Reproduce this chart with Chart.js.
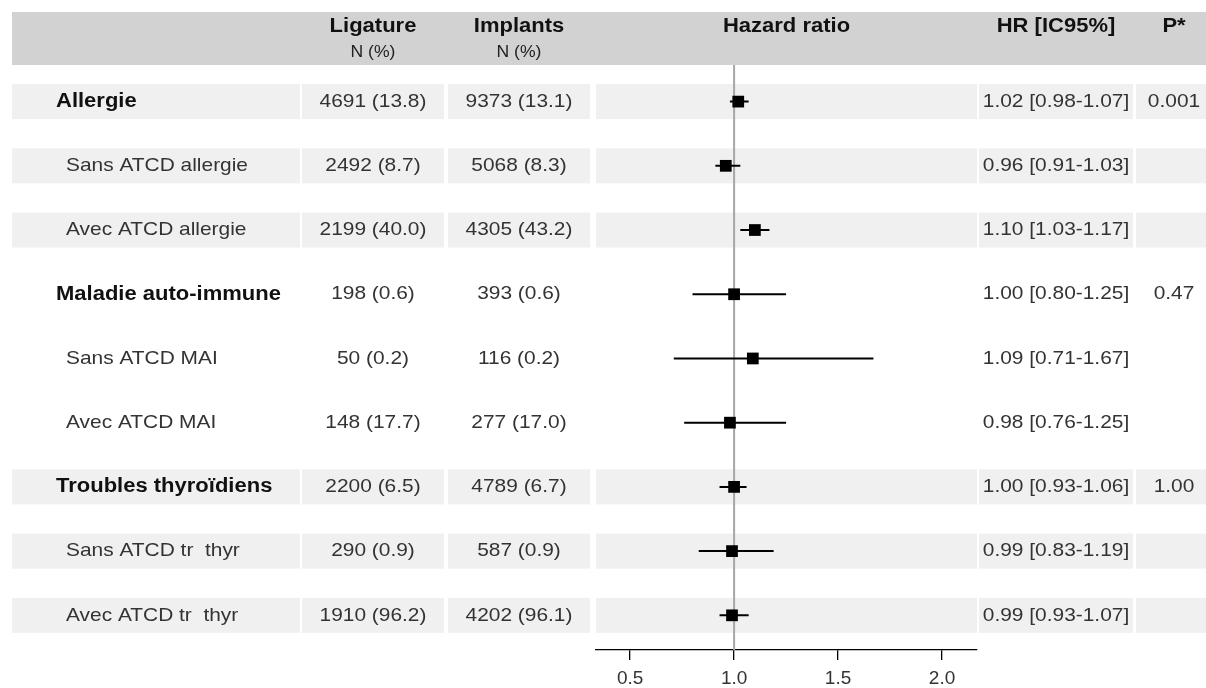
<!DOCTYPE html>
<html>
<head>
<meta charset="utf-8">
<script src="https://cdn.jsdelivr.net/npm/chart.js@4"></script>
<style>
  html, body { margin: 0; padding: 0; background: #fff; }
  canvas { display: block; }
</style>
</head>
<body>
<canvas id="forest" width="1206" height="688"></canvas>
<script>
// données
const rowLabels = ["Allergie", "Sans ATCD allergie", "Avec ATCD allergie",
  "Maladie auto-immune", "Sans ATCD MAI", "Avec ATCD MAI",
  "Troubles thyroïdiens", "Sans ATCD tr  thyr", "Avec ATCD tr  thyr"];
const rowGroup = [1, 1, 1, 2, 2, 2, 3, 3, 3];
const rowIsHeader = [true, false, false, true, false, false, true, false, false];
const ligature = ["4691 (13.8)", "2492 (8.7)", "2199 (40.0)", "198 (0.6)", "50 (0.2)",
  "148 (17.7)", "2200 (6.5)", "290 (0.9)", "1910 (96.2)"];
const implants = ["9373 (13.1)", "5068 (8.3)", "4305 (43.2)", "393 (0.6)", "116 (0.2)",
  "277 (17.0)", "4789 (6.7)", "587 (0.9)", "4202 (96.1)"];
const hr = [1.02, 0.96, 1.10, 1.00, 1.09, 0.98, 1.00, 0.99, 0.99];
const hrLow = [0.98, 0.91, 1.03, 0.80, 0.71, 0.76, 0.93, 0.83, 0.93];
const hrHigh = [1.07, 1.03, 1.17, 1.25, 1.67, 1.25, 1.06, 1.19, 1.07];
const pValues = ["0.001", "", "", "0.47", "", "", "1.00", "", ""];
const xTicks = [0.5, 1.0, 1.5, 2.0];
const headers = { lig: "Ligature", imp: "Implants", sub: "N (%)",
  plot: "Hazard ratio", hr: "HR [IC95%]", p: "P*" };

const rowIdx = rowLabels.map((_, i) => i + 1);

// colonnes du tableau (pixels)
const cols = {
  label: [12, 300], lig: [302, 444], imp: [448, 590],
  plot: [596, 977], hr: [979, 1133], p: [1136, 1212]
};
const FONT = '"Liberation Sans", Arial, sans-serif';
const SX = 1.1;

function txt(ctx, s, x, y, size, bold, align, color) {
  ctx.save();
  ctx.font = (bold ? "bold " : "") + size + "px " + FONT;
  ctx.fillStyle = color;
  ctx.textBaseline = "middle";
  ctx.textAlign = align;
  ctx.translate(x, y);
  ctx.scale(SX, 1);
  ctx.fillText(s, 0, 0);
  ctx.restore();
}
const mid = (c) => (c[0] + c[1]) / 2;

const tablePlugin = {
  id: "table",
  beforeDraw(chart) {
    const ctx = chart.ctx;
    const y = chart.scales.y;
    // en-tête
    ctx.fillStyle = "#d2d2d2";
    ctx.fillRect(12, 12, 1206 - 12, 53);
    // bandes des lignes
    rowIdx.forEach((r, i) => {
      if (rowGroup[i] % 2 === 0) return;
      const yc = y.getPixelForValue(r);
      ctx.fillStyle = "#f0f0f0";
      Object.values(cols).forEach(c => ctx.fillRect(c[0], yc - 17.5, c[1] - c[0], 35));
    });
  },
  beforeDatasetsDraw(chart) {
    const ctx = chart.ctx;
    const x = chart.scales.x;
    const a = chart.chartArea;
    const px = x.getPixelForValue(1);
    ctx.save();
    ctx.strokeStyle = "#a6a6a6";
    ctx.lineWidth = 2;
    ctx.beginPath();
    ctx.moveTo(px, a.top);
    ctx.lineTo(px, a.bottom);
    ctx.stroke();
    ctx.restore();
  },
  afterDraw(chart) {
    const ctx = chart.ctx;
    const y = chart.scales.y;
    txt(ctx, headers.lig, mid(cols.lig), 26, 20, true, "center", "#111");
    txt(ctx, headers.imp, mid(cols.imp), 26, 20, true, "center", "#111");
    txt(ctx, headers.sub, mid(cols.lig), 53, 16, false, "center", "#222");
    txt(ctx, headers.sub, mid(cols.imp), 53, 16, false, "center", "#222");
    txt(ctx, headers.plot, mid(cols.plot), 26, 20, true, "center", "#111");
    txt(ctx, headers.hr, mid(cols.hr), 26, 20, true, "center", "#111");
    txt(ctx, headers.p, mid(cols.p), 26, 20, true, "center", "#111");
    rowIdx.forEach((r, i) => {
      const yc = y.getPixelForValue(r);
      if (rowIsHeader[i]) txt(ctx, rowLabels[i], 56, yc, 20, true, "left", "#111");
      else txt(ctx, rowLabels[i], 66, yc, 19, false, "left", "#333");
      txt(ctx, ligature[i], mid(cols.lig), yc, 19, false, "center", "#333");
      txt(ctx, implants[i], mid(cols.imp), yc, 19, false, "center", "#333");
      const s = hr[i].toFixed(2) + " [" + hrLow[i].toFixed(2) + "-" + hrHigh[i].toFixed(2) + "]";
      txt(ctx, s, mid(cols.hr), yc, 19, false, "center", "#333");
      if (pValues[i]) txt(ctx, pValues[i], mid(cols.p), yc, 19, false, "center", "#333");
    });
  }
};

const points = rowIdx.map((r, i) => ({ x: hr[i], y: r }));
const whiskers = [];
rowIdx.forEach((r, i) => {
  whiskers.push({ x: hrLow[i], y: r }, { x: hrHigh[i], y: r }, { x: hrHigh[i], y: null });
});

new Chart(document.getElementById("forest"), {
  type: "scatter",
  data: {
    datasets: [
      { data: points, pointStyle: "rect", pointRadius: 8.3, pointHoverRadius: 8.3,
        backgroundColor: "#000", borderColor: "#000", borderWidth: 0 },
      { data: whiskers, showLine: true, spanGaps: false, pointRadius: 0, pointHoverRadius: 0,
        borderColor: "#000", borderWidth: 2 }
    ]
  },
  options: {
    responsive: false,
    animation: false,
    events: [],
    layout: { padding: { left: cols.plot[0], right: 1206 - cols.plot[1], top: 65, bottom: 0 } },
    plugins: { legend: { display: false }, tooltip: { enabled: false } },
    scales: {
      x: {
        type: "linear", min: 0.336, max: 2.168,
        afterBuildTicks: (s) => { s.ticks = xTicks.map(v => ({ value: v })); },
        afterFit: (s) => { s.height = 38; },
        ticks: { callback: (v) => v.toFixed(1), color: "#333", padding: 9,
          font: { family: FONT, size: 19, lineHeight: 1 }, maxRotation: 0, autoSkip: false },
        grid: { drawOnChartArea: false, drawTicks: true, tickLength: 10, color: "#000", lineWidth: 1.3 },
        border: { display: true, color: "#000", width: 1.3 }
      },
      y: { type: "linear", min: 0.43, max: 9.54, reverse: true, display: false }
    }
  },
  plugins: [tablePlugin]
});
</script>
</body>
</html>
